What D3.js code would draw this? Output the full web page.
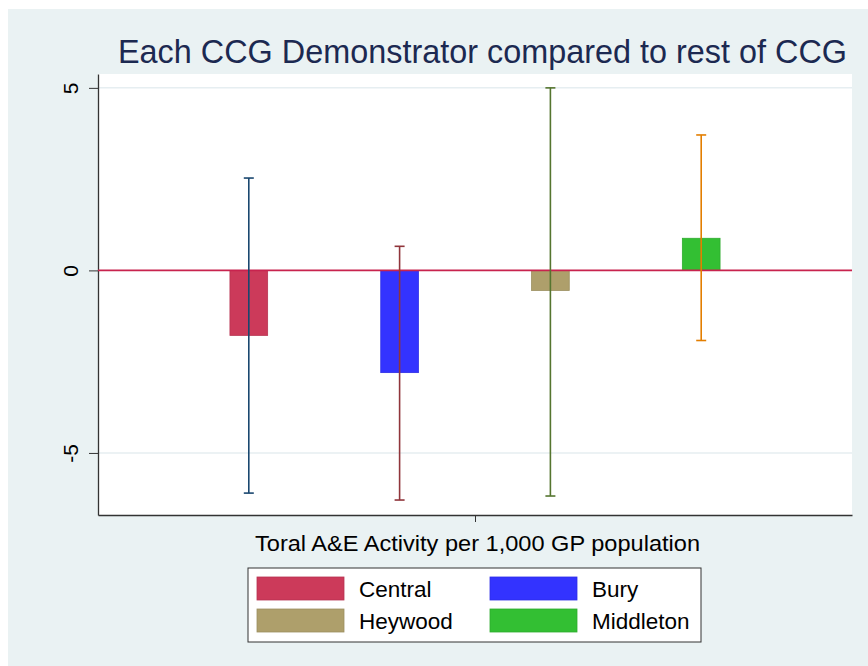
<!DOCTYPE html>
<html>
<head>
<meta charset="utf-8">
<script src="https://cdn.jsdelivr.net/npm/d3@7"></script>
<style>
  body { margin: 0; background: #fff; }
  svg { display: block; font-family: "Liberation Sans", Arial, sans-serif; }
</style>
</head>
<body>
<div id="chart"></div>
<script>
// data
const groups = ["Central", "Bury", "Heywood", "Middleton"];
const diffs = [-1.78, -2.8, -0.55, 0.88];
const ciLow = [-6.1, -6.29, -6.18, -1.92];
const ciHigh = [2.53, 0.66, 5.0, 3.71];
const yTicks = [-5, 0, 5];
const barColors = ["#cc3a5a", "#3333ff", "#ae9f6b", "#33bf33"];
const errColors = ["#1a476f", "#90353b", "#55752f", "#e37e00"];

const W = 868, H = 666;
const svg = d3.select("#chart").append("svg")
    .attr("width", W)
    .attr("height", H);

// graph region
svg.append("rect")
    .attr("x", 8).attr("y", 9)
    .attr("width", W - 8).attr("height", H - 9)
    .attr("fill", "#eaf2f3");

const pLeft = 98, pRight = 852, pTop = 74, pBottom = 515;

svg.append("rect")
    .attr("x", pLeft).attr("y", pTop)
    .attr("width", pRight - pLeft).attr("height", pBottom - pTop)
    .attr("fill", "#fff");

const x = d3.scaleLinear().domain([0, 5]).range([pLeft, pRight]);
const y = d3.scaleLinear().domain([-6.7, 5.38]).range([pBottom, pTop]);
const barW = x(0.25) - x(0);

// grid lines
svg.selectAll(".grid")
    .data(yTicks.filter(d => d !== 0))
    .enter().append("line")
    .attr("x1", pLeft).attr("x2", pRight)
    .attr("y1", d => y(d)).attr("y2", d => y(d))
    .attr("stroke", "#e6eef1")
    .attr("stroke-width", 1.5);

// y axis
const yAxis = svg.append("g")
    .attr("transform", `translate(${pLeft},0)`)
    .call(d3.axisLeft(y).tickValues(yTicks).tickFormat(d => String(d)).tickSize(9).tickSizeOuter(0));
yAxis.select(".domain").attr("stroke", "#333").attr("stroke-width", 1.3);
yAxis.selectAll(".tick line").attr("stroke", "#333");
yAxis.selectAll(".tick text")
    .attr("font-size", 21)
    .attr("fill", "#000")
    .attr("text-anchor", "middle")
    .attr("x", 0).attr("y", 0)
    .attr("dy", "0.35em")
    .attr("transform", "translate(-27,0) rotate(-90)");

// x axis
const xAxis = svg.append("g")
    .attr("transform", `translate(0,${pBottom})`)
    .call(d3.axisBottom(x).tickValues([2.5]).tickFormat("").tickSize(7).tickSizeOuter(0));
xAxis.select(".domain").attr("stroke", "#333").attr("stroke-width", 1.5);
xAxis.selectAll(".tick line").attr("stroke", "#333");

// bars
svg.selectAll(".bar")
    .data(groups)
    .enter().append("rect")
    .attr("x", (d, i) => x(i + 1) - barW / 2)
    .attr("width", barW)
    .attr("y", (d, i) => y(Math.max(0, diffs[i])))
    .attr("height", (d, i) => Math.abs(y(diffs[i]) - y(0)))
    .attr("fill", (d, i) => barColors[i])
    .attr("stroke", (d, i) => d3.color(barColors[i]).darker(0.3))
    .attr("stroke-width", 0.8);

// zero line
svg.append("line")
    .attr("x1", pLeft).attr("x2", pRight)
    .attr("y1", y(0)).attr("y2", y(0))
    .attr("stroke", "#c8234e")
    .attr("stroke-width", 1.6);

// error bars
const err = svg.selectAll(".err")
    .data(groups)
    .enter().append("g")
    .attr("stroke", (d, i) => errColors[i])
    .attr("stroke-width", 1.6);
err.append("line")
    .attr("x1", (d, i) => x(i + 1)).attr("x2", (d, i) => x(i + 1))
    .attr("y1", (d, i) => y(ciLow[i])).attr("y2", (d, i) => y(ciHigh[i]));
err.append("line")
    .attr("x1", (d, i) => x(i + 1) - 5).attr("x2", (d, i) => x(i + 1) + 5)
    .attr("y1", (d, i) => y(ciLow[i])).attr("y2", (d, i) => y(ciLow[i]));
err.append("line")
    .attr("x1", (d, i) => x(i + 1) - 5).attr("x2", (d, i) => x(i + 1) + 5)
    .attr("y1", (d, i) => y(ciHigh[i])).attr("y2", (d, i) => y(ciHigh[i]));

// title
svg.append("text")
    .attr("x", 118).attr("y", 63)
    .attr("font-size", 32.5)
    .attr("fill", "#1c2951")
    .attr("textLength", 729)
    .attr("lengthAdjust", "spacingAndGlyphs")
    .text("Each CCG Demonstrator compared to rest of CCG");

// x title
svg.append("text")
    .attr("x", 255).attr("y", 551)
    .attr("font-size", 21.5)
    .attr("fill", "#000")
    .attr("textLength", 445)
    .attr("lengthAdjust", "spacingAndGlyphs")
    .text("Toral A&E Activity per 1,000 GP population");

// legend
const leg = svg.append("g");
leg.append("rect")
    .attr("x", 248).attr("y", 568)
    .attr("width", 453).attr("height", 74)
    .attr("fill", "#fff")
    .attr("stroke", "#333")
    .attr("stroke-width", 1);
const item = leg.selectAll(".item")
    .data(groups)
    .enter().append("g")
    .attr("transform", (d, i) => `translate(${257 + (i % 2) * 233},${577 + Math.floor(i / 2) * 32})`);
item.append("rect")
    .attr("width", 87).attr("height", 23)
    .attr("fill", (d, i) => barColors[i])
    .attr("stroke", (d, i) => d3.color(barColors[i]).darker(0.3))
    .attr("stroke-width", 0.8);
item.append("text")
    .attr("x", 102).attr("y", 20)
    .attr("font-size", 22.5)
    .attr("fill", "#000")
    .text(d => d);
</script>
</body>
</html>
